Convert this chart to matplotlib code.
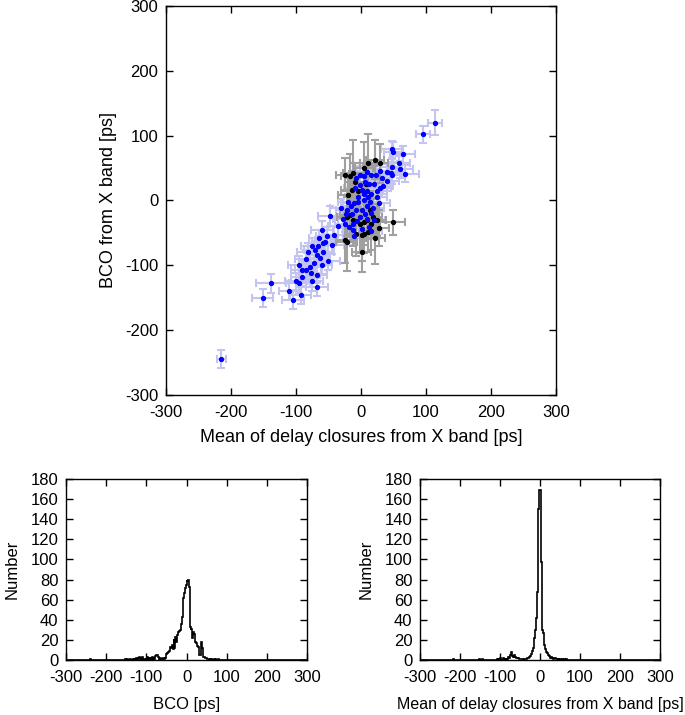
import numpy as np
import matplotlib
matplotlib.use("Agg")
import matplotlib.pyplot as plt

plt.rcParams['font.family'] = ['Liberation Sans', 'DejaVu Sans']
plt.rcParams['axes.unicode_minus'] = False

# blue points: x, y, xerr, yerr  [ps]
blue_x = [114, 95, 47, 50, 64, 58, 60, 67, 47, 46, 47, 40, 40, 34, 29, 32, 24, 23, 16, 9,
          4, -2, -8, 6, 13, -2, -9, 1, 4, 9, 16, 24, 11, 4, -4, -11, -16, -22, -20, 9,
          19, 27, 16, 6, -2, 10, -6, -12, -18, -27, -25, 12, 1, 16, -12, -23, -14, -7, -31, -35,
          -48, -60, -64, -52, -55, -44, -76, -59, -66, -71, -81, -68, -58, -63, -50, -78, -90, -85, -77, -90,
          -68, -100, -95, -68, -93, -104, -139, -151, -215, -72, -42, 30, 20, -5, 14, 2, 20, -10,
          -85, -96, -60, -75, -110]
blue_y = [120, 102, 79, 75, 71, 57, 48, 41, 52, 42, 39, 44, 30, 23, 19, 34, 15, 39, 39, 44,
          37, 40, 34, 29, 26, 24, 19, 16, 10, 14, 10, 6, 5, 0, -2, -4, -9, -15, -2, -9,
          -11, -4, -19, -21, -25, -28, -31, -36, -41, -29, -37, -41, -44, -47, -46, -21, -21, -15, -11, -40,
          -24, -46, -58, -55, -64, -69, -71, -66, -71, -76, -79, -84, -80, -89, -94, -102, -107, -107, -112, -118,
          -115, -125, -128, -133, -146, -154, -128, -151, -244, -97, -53, 45, 25, 5, -2, -15, -30, -55,
          -90, -100, -100, -125, -140]
blue_xerr = [11, 11, 16, 14, 19, 17, 20, 22, 16, 15, 17, 15, 18, 16, 17, 15, 16, 15, 16, 17,
             15, 16, 17, 15, 18, 16, 17, 15, 16, 17, 15, 16, 17, 15, 16, 17, 15, 16, 15, 16,
             17, 18, 16, 15, 17, 15, 16, 15, 17, 16, 15, 17, 15, 16, 15, 16, 15, 16, 17, 16,
             18, 17, 16, 17, 16, 18, 17, 16, 15, 16, 17, 16, 17, 16, 18, 16, 17, 16, 15, 17,
             16, 17, 16, 17, 16, 17, 23, 16, 7, 16, 16, 17, 16, 15, 16, 16, 17, 17,
             16, 17, 16, 17, 16]
blue_yerr = [19, 13, 13, 15, 13, 12, 13, 13, 12, 13, 14, 12, 15, 13, 14, 12, 13, 14, 12, 13,
             14, 13, 12, 14, 13, 13, 14, 12, 13, 13, 12, 13, 14, 13, 12, 13, 14, 13, 12, 13,
             14, 13, 13, 12, 13, 14, 13, 13, 14, 13, 12, 13, 14, 13, 13, 13, 12, 13, 13, 14,
             15, 14, 13, 14, 13, 14, 13, 13, 14, 13, 14, 13, 13, 14, 14, 13, 13, 14, 13, 14,
             13, 13, 14, 14, 13, 14, 15, 14, 14, 13, 13, 13, 13, 13, 12, 13, 14, 14,
             13, 14, 13, 14, 13]

# black points: x, y, xerr, yerr  [ps]
black_x = [22, 11, 4, -12, -17, -9, -14, -20, 14, -17, -12, 9, 4, -2, 24, 16, 27, 11, 1, -7,
           -22, 1, 49, 22, 19, 29, -25, 4, -22, -5, 8, -25]
black_y = [63, 57, 50, 42, 37, 29, 16, 9, -15, -22, -30, -30, -34, -36, -30, -36, -43, -48, -53, -51,
           -64, -80, -34, -58, -25, 57, -61, -51, -25, 15, 25, 40]
black_xerr = [14, 13, 15, 16, 14, 15, 16, 15, 14, 16, 14, 15, 14, 13, 15, 14, 16, 13, 15, 14,
              16, 15, 19, 15, 14, 13, 14, 13, 15, 13, 14, 14]
black_yerr = [30, 45, 40, 52, 35, 28, 30, 25, 30, 35, 40, 30, 35, 45, 25, 40, 28, 32, 40, 35,
              45, 31, 20, 40, 28, 30, 35, 30, 30, 25, 30, 25]

# histogram of BCO, 2 ps bins: left edge -> count
bco_edges = [-240, -152, -148, -144, -140, -134, -130, -126, -122, -120, -118, -114, -110, -106, -102,
             -98, -94, -90, -86, -82, -78, -76, -74, -72, -70, -66, -62, -58, -56, -54,
             -52, -50, -48, -46, -44, -42, -40, -38, -36, -34, -32, -30, -28, -26, -24, -22, -20, -18,
             -16, -14, -12, -10, -8, -6, -4, -2, 0, 2, 4, 6, 8, 10, 12, 14, 16, 18, 20, 22, 24, 26,
             28, 30, 32, 34, 36, 38, 40, 42, 44, 46, 48, 50, 52, 54, 58, 62, 68, 72, 78]
bco_counts = [1, 1, 1, 1, 1, 1, 1, 2, 3, 2, 3, 2, 3, 1, 2,
              3, 2, 2, 3, 3, 4, 5, 5, 4, 3, 2, 2, 2, 1, 2,
              3, 6, 7, 8, 9, 12, 13, 12, 15, 11, 21, 12, 23, 18, 25, 27, 28, 29,
              30, 36, 43, 50, 62, 67, 72, 75, 80, 79, 80, 73, 33, 30, 31, 22, 28, 26, 22, 18, 17, 14,
              13, 9, 5, 5, 18, 12, 5, 3, 3, 2, 2, 1, 1, 1, 1, 1, 1, 1, 1]

# histogram of mean delay closures, 2 ps bins
dc_edges = [-218, -152, -144, -108, -104, -100, -96, -92, -88, -86, -82, -80, -78, -76, -74, -72, -70,
            -68, -66, -64, -62, -60, -58, -56, -54, -52, -50, -48, -46, -44, -40, -38, -36, -34, -32,
            -30, -28, -26, -24, -22, -20, -18, -16, -14, -12, -10, -8, -6, -4, -2, 0, 2, 4, 6, 8,
            10, 12, 14, 16, 18, 20, 22, 24, 26, 28, 30, 32, 34, 36, 38, 40, 42, 46, 50, 56, 60, 66]
dc_counts = [1, 1, 1, 1, 1, 2, 1, 2, 1, 2, 1, 3, 2, 3, 5, 8, 4,
             3, 2, 5, 3, 2, 2, 1, 2, 1, 1, 1, 1, 1, 1, 1, 1, 1, 2,
             2, 3, 3, 4, 6, 9, 12, 17, 22, 30, 42, 68, 145, 150, 169, 169, 97, 42, 30, 27,
             15, 11, 9, 8, 7, 5, 4, 3, 2, 3, 2, 1, 1, 2, 2, 1, 1, 1, 1, 1, 1, 1]

bins = np.arange(-300, 302, 2)


def binned(edges, counts):
    full = np.zeros(len(bins) - 1)
    for e, c in zip(edges, counts):
        full[(e + 300) // 2] = c
    return full


def style_axes(ax):
    ax.tick_params(direction='in', top=True, right=True, length=5, width=1, labelsize=12)
    ax.tick_params(axis='x', pad=7.5)
    ax.tick_params(axis='y', pad=5.5)
    for s in ax.spines.values():
        s.set_linewidth(1)


fig = plt.figure(figsize=(6.85, 7.15), dpi=100)

ax = fig.add_axes([0.2423, 0.4476, 0.5693, 0.5441])
ax.errorbar(blue_x, blue_y, xerr=blue_xerr, yerr=blue_yerr, fmt='none',
            ecolor='#c4c4f0', elinewidth=1.5, capsize=3.2, capthick=1.5, zorder=1)
ax.errorbar(black_x, black_y, xerr=black_xerr, yerr=black_yerr, fmt='none',
            ecolor='#a0a0a0', elinewidth=1.5, capsize=3.2, capthick=1.5, zorder=2)
ax.plot(black_x, black_y, 'o', color='black', ms=2.8, zorder=3)
ax.plot(blue_x, blue_y, 'o', color='#0000ff', ms=2.8, zorder=4)
ax.set_xlim(-300, 300)
ax.set_ylim(-300, 300)
ax.set_xticks(range(-300, 301, 100))
ax.set_yticks(range(-300, 301, 100))
ax.set_xlabel("Mean of delay closures from X band [ps]", fontsize=13, labelpad=6)
ax.set_ylabel("BCO from X band [ps]", fontsize=13, labelpad=6)
style_axes(ax)

ax1 = fig.add_axes([0.0964, 0.0769, 0.3518, 0.2531])
ax1.stairs(binned(bco_edges, bco_counts), bins, color='black', lw=1.2)
ax1.set_xlabel("BCO [ps]", fontsize=12, labelpad=8)

ax2 = fig.add_axes([0.6131, 0.0769, 0.3504, 0.2531])
ax2.stairs(binned(dc_edges, dc_counts), bins, color='black', lw=1.2)
ax2.set_xlabel("Mean of delay closures from X band [ps]", fontsize=11.5, labelpad=8)

for a in (ax1, ax2):
    a.set_xlim(-300, 300)
    a.set_ylim(0, 180)
    a.set_xticks(range(-300, 301, 100))
    a.set_yticks(range(0, 181, 20))
    a.set_ylabel("Number", fontsize=12, labelpad=8)
    style_axes(a)

fig.savefig("out.png", dpi=100)
